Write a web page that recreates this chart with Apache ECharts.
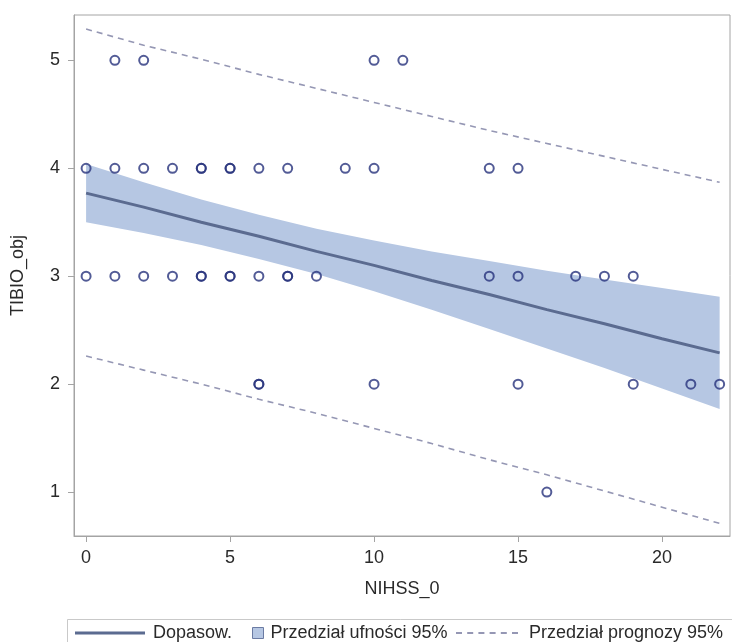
<!DOCTYPE html>
<html>
<head>
<meta charset="utf-8">
<script src="https://cdn.jsdelivr.net/npm/echarts@6/dist/echarts.min.js"></script>
<style>
  html, body { margin: 0; padding: 0; background: #ffffff; }
  #chart { width: 732px; height: 642px; }
</style>
</head>
<body>
<div id="chart"></div>
<script>
// Observations: NIHSS_0 (x) vs TIBIO_obj (y)
const nihss = [1, 2, 10, 11,
  0, 1, 2, 3, 4, 4, 5, 5, 6, 7, 9, 10, 14, 15,
  0, 1, 2, 3, 4, 4, 5, 5, 6, 7, 7, 8, 14, 15, 17, 18, 19,
  6, 6, 10, 15, 19, 21, 22,
  16];
const tibio = [5, 5, 5, 5,
  4, 4, 4, 4, 4, 4, 4, 4, 4, 4, 4, 4, 4, 4,
  3, 3, 3, 3, 3, 3, 3, 3, 3, 3, 3, 3, 3, 3, 3, 3, 3,
  2, 2, 2, 2, 2, 2, 2,
  1];

// Regression fit, 95% confidence band and 95% prediction limits
const gridX   = [0, 2, 4, 6, 8, 10, 12, 14, 16, 18, 20, 22];
const fitY    = [3.77, 3.64, 3.50, 3.37, 3.23, 3.10, 2.96, 2.83, 2.69, 2.56, 2.42, 2.29];
const clUpper = [4.04, 3.87, 3.71, 3.57, 3.44, 3.33, 3.23, 3.14, 3.05, 2.97, 2.89, 2.81];
const clLower = [3.50, 3.40, 3.29, 3.16, 3.02, 2.86, 2.69, 2.51, 2.33, 2.15, 1.96, 1.77];
const plUpper = [5.29, 5.14, 5.01, 4.87, 4.74, 4.61, 4.48, 4.35, 4.23, 4.11, 3.99, 3.87];
const plLower = [2.26, 2.13, 2.00, 1.86, 1.73, 1.59, 1.45, 1.30, 1.16, 1.01, 0.86, 0.71];

const xTicks = [0, 5, 10, 15, 20];
const yTicks = [1, 2, 3, 4, 5];

const FONT = 'Liberation Sans, Arial, sans-serif';
const TXT = '#2a2a2a';
const AXIS = '#a4a4a4';
const FIT_COLOR = '#5b6b90';
const BAND_COLOR = '#b6c7e3';
const PRED_COLOR = '#9597b4';
const MARK_COLOR = '#27327c';

const pairs = (xs, ys) => xs.map((x, i) => [x, ys[i]]);

// Legend glyph for the dashed prediction limits: six short dashes, 62 x 2
const DASH_ICON = 'path://M0,0h6v2h-6z M11.2,0h6v2h-6z M22.4,0h6v2h-6z ' +
  'M33.6,0h6v2h-6z M44.8,0h6v2h-6z M56,0h6v2h-6z';

const chart = echarts.init(document.getElementById('chart'), null, { renderer: 'canvas' });

const axisCommon = {
  type: 'value',
  nameLocation: 'middle',
  nameTextStyle: { fontSize: 18, color: TXT, fontFamily: FONT },
  axisLine: { show: true, onZero: false, lineStyle: { color: AXIS, width: 1 } },
  splitLine: { show: false }
};

chart.setOption({
  animation: false,
  backgroundColor: '#ffffff',
  textStyle: { fontFamily: FONT },
  grid: {
    left: 74, top: 15, right: 2, bottom: 106,
    show: true, borderColor: AXIS, borderWidth: 1, backgroundColor: 'transparent'
  },
  xAxis: Object.assign({}, axisCommon, {
    min: -0.42, max: 22.36,
    name: 'NIHSS_0',
    nameGap: 44,
    axisTick: { show: true, inside: false, length: 6, customValues: xTicks, lineStyle: { color: AXIS } },
    axisLabel: { customValues: xTicks, fontSize: 18, color: TXT, margin: 13, fontFamily: FONT }
  }),
  yAxis: Object.assign({}, axisCommon, {
    min: 0.593, max: 5.42,
    name: 'TIBIO_obj',
    nameGap: 47,
    axisTick: { show: true, inside: false, length: 6, customValues: yTicks, lineStyle: { color: AXIS } },
    axisLabel: { customValues: yTicks, fontSize: 18, color: TXT, margin: 14, fontFamily: FONT }
  }),
  legend: [
    {
      left: 75, top: 624, padding: 0, selectedMode: false,
      itemWidth: 70, itemHeight: 3,
      textStyle: { fontSize: 18, color: TXT, fontFamily: FONT, padding: [0, 0, 0, 3] },
      data: [{ name: 'Dopasow.', icon: 'rect', itemStyle: { color: FIT_COLOR } }]
    },
    {
      left: 252, top: 624, padding: 0, selectedMode: false,
      itemWidth: 11, itemHeight: 11,
      textStyle: { fontSize: 18, color: TXT, fontFamily: FONT, padding: [0, 0, 0, 2] },
      data: [{
        name: 'Przedział ufności 95%',
        icon: 'rect',
        itemStyle: { color: BAND_COLOR, borderColor: '#6b7ba3', borderWidth: 1 }
      }]
    },
    {
      left: 456, top: 624, padding: 0, selectedMode: false,
      itemWidth: 62, itemHeight: 2,
      textStyle: { fontSize: 18, color: TXT, fontFamily: FONT, padding: [0, 0, 0, 6] },
      data: [{ name: 'Przedział prognozy 95%', icon: DASH_ICON, itemStyle: { color: PRED_COLOR } }]
    }
  ],
  graphic: [
    {
      type: 'rect',
      silent: true,
      shape: { x: 67.5, y: 619.5, width: 680, height: 40 },
      style: { fill: 'none', stroke: '#c9c9c9', lineWidth: 1 }
    }
  ],
  series: [
    {
      // 95% confidence band: one polygon through the upper limits and back along the lower ones
      name: 'Przedział ufności 95%',
      type: 'custom',
      silent: true,
      itemStyle: { color: BAND_COLOR },
      encode: { x: 0, y: [1, 2] },
      data: gridX.map((x, i) => [x, clLower[i], clUpper[i]]),
      renderItem: function (params, api) {
        if (params.dataIndex !== 0) return null;
        const pts = [];
        for (let i = 0; i < gridX.length; i++) pts.push(api.coord([gridX[i], clUpper[i]]));
        for (let i = gridX.length - 1; i >= 0; i--) pts.push(api.coord([gridX[i], clLower[i]]));
        return {
          type: 'polygon',
          shape: { points: pts },
          style: { fill: BAND_COLOR, stroke: null }
        };
      },
      z: 1
    },
    {
      name: 'Dopasow.',
      type: 'line',
      symbol: 'none',
      silent: true,
      itemStyle: { color: FIT_COLOR },
      lineStyle: { color: FIT_COLOR, width: 3 },
      data: pairs(gridX, fitY),
      z: 2
    },
    {
      name: 'Przedział prognozy 95%',
      type: 'line',
      symbol: 'none',
      silent: true,
      itemStyle: { color: PRED_COLOR },
      lineStyle: { color: PRED_COLOR, width: 1.6, type: [6, 5] },
      data: pairs(gridX, plUpper),
      z: 2
    },
    {
      name: 'Przedział prognozy 95%',
      type: 'line',
      symbol: 'none',
      silent: true,
      itemStyle: { color: PRED_COLOR },
      lineStyle: { color: PRED_COLOR, width: 1.6, type: [6, 5] },
      data: pairs(gridX, plLower),
      z: 2
    },
    {
      name: 'TIBIO_obj',
      type: 'scatter',
      symbol: 'circle',
      symbolSize: 9,
      silent: true,
      itemStyle: { color: 'rgba(255,255,255,0)', borderColor: MARK_COLOR, borderWidth: 2 },
      data: pairs(nihss, tibio),
      z: 3
    }
  ]
});
</script>
</body>
</html>
